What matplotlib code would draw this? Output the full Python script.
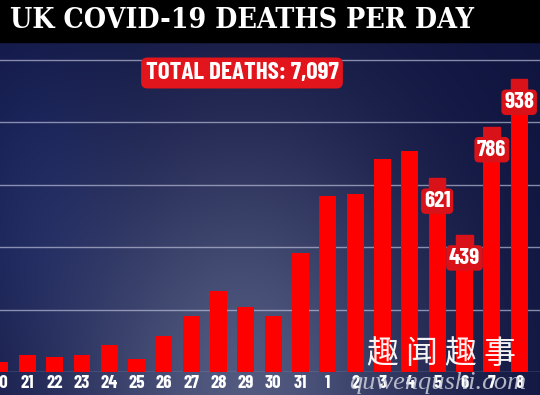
import matplotlib
matplotlib.use("Agg")
import matplotlib.pyplot as plt
import numpy as np
from matplotlib.patches import Rectangle

DAYS = ["20", "21", "22", "23", "24", "25", "26", "27", "28", "29",
        "30", "31", "1", "2", "3", "4", "5", "6", "7", "8"]
DEATHS = [33, 56, 48, 54, 87, 41, 115, 181, 260, 209,
          180, 381, 563, 569, 684, 708, 621, 439, 786, 938]
LABELLED = ["5", "6", "7", "8"]
TITLE = "UK COVID-19 DEATHS PER DAY"
TOTAL = "TOTAL DEATHS: 7,097"
GRID = [0, 200, 400, 600, 800, 1000]
WATERMARK = "趣闻趣事"
SITE = "quwenqushi.com"

BAR_RED = "#ff0000"
BOX_RED = "#d9121a"
NARROW = ["Barlow Condensed", "DejaVu Sans"]

W, H = 540, 395
figure = plt.figure(figsize=(W / 100, H / 100), dpi=100)

# Background gradient
bg = figure.add_axes([0, 0, 1, 1])
bg.set_axis_off()
u, v = np.meshgrid(np.linspace(0, 1, 270), np.linspace(0, 1, 200))
weight = np.exp(-((u - 0.45) ** 2 / 0.12 + (v - 1.0) ** 2 / 0.45))
side = np.exp(-((u - 0.05) ** 2 / 0.03 + (v - 0.5) ** 2 / 0.2))
dark = np.array([0.06, 0.08, 0.25])
light = np.array([0.32, 0.35, 0.50])
blue = np.array([0.11, 0.16, 0.40])
img = dark + weight[..., None] * (light - dark) + 0.6 * side[..., None] * (blue - dark)
bg.imshow(np.clip(img, 0, 1), extent=[0, 1, 0, 1], aspect="auto", origin="upper")
bg.add_patch(Rectangle((0, 1 - 42 / H), 1, 42 / H, color="black"))
bg.set_xlim(0, 1)
bg.set_ylim(0, 1)

# Main bar axes
axes = figure.add_axes([0, 23 / H, 1, 330 / H])
axes.patch.set_alpha(0)
for s in axes.spines.values():
    s.set_visible(False)
ppd = 312 / 1000  # pixels per death
axes.set_ylim(0, 330 / ppd)
c0, step = -2.5, 27.45
axes.set_xlim((0 - c0) / step, (W - c0) / step)
x = np.arange(len(DAYS))
for g in GRID:
    axes.axhline(g, color="#b8bcd6", lw=1.0, alpha=0.7, zorder=1)
axes.bar(x, DEATHS, width=0.62, color=BAR_RED, zorder=2)
axes.set_yticks([])
axes.set_xticks(x)
axes.set_xticklabels(DAYS, family=NARROW, weight="bold", fontsize=13.5, color="white")
axes.tick_params(axis="x", length=0, pad=2)

# Value labels on last bars
tab = 10 / ppd
for day in LABELLED:
    i = DAYS.index(day)
    val = DEATHS[i]
    axes.add_patch(Rectangle((i - 0.3, val - tab), 0.6, tab, color=BOX_RED, zorder=3))
    axes.annotate(str(val), (i, val), xytext=(0, -16.5), textcoords="offset points",
                  ha="center", va="center", family=NARROW, weight="bold",
                  fontsize=16.5, color="white", zorder=4,
                  bbox=dict(boxstyle="round,pad=0.12,rounding_size=0.2", fc=BOX_RED, ec="none"))

# Title and total box
figure.text(10 / W, 1 - 21 / H, TITLE, family="DejaVu Serif", fontstretch="condensed",
            weight="bold", fontsize=20.4, color="white", va="center", ha="left")
figure.text(242 / W, 1 - 73 / H, TOTAL, family=NARROW, weight="bold", fontsize=18,
            color="white", ha="center", va="center",
            bbox=dict(boxstyle="round,pad=0.18,rounding_size=0.25", fc="#e3151c", ec="none"))

# Watermark
for k, ch in enumerate(WATERMARK):
    figure.text((382 + k * 39) / W, 1 - 354 / H, ch, family=["Noto Sans CJK SC", "DejaVu Sans"],
                fontsize=23, color="white", ha="center", va="center", alpha=0.95)
figure.text(438 / W, 1 - 383 / H, SITE, family="Liberation Serif", style="italic",
            fontsize=19, color="#d0d2dc", ha="center", va="center", alpha=0.85)

figure.savefig("out.png", dpi=100)
